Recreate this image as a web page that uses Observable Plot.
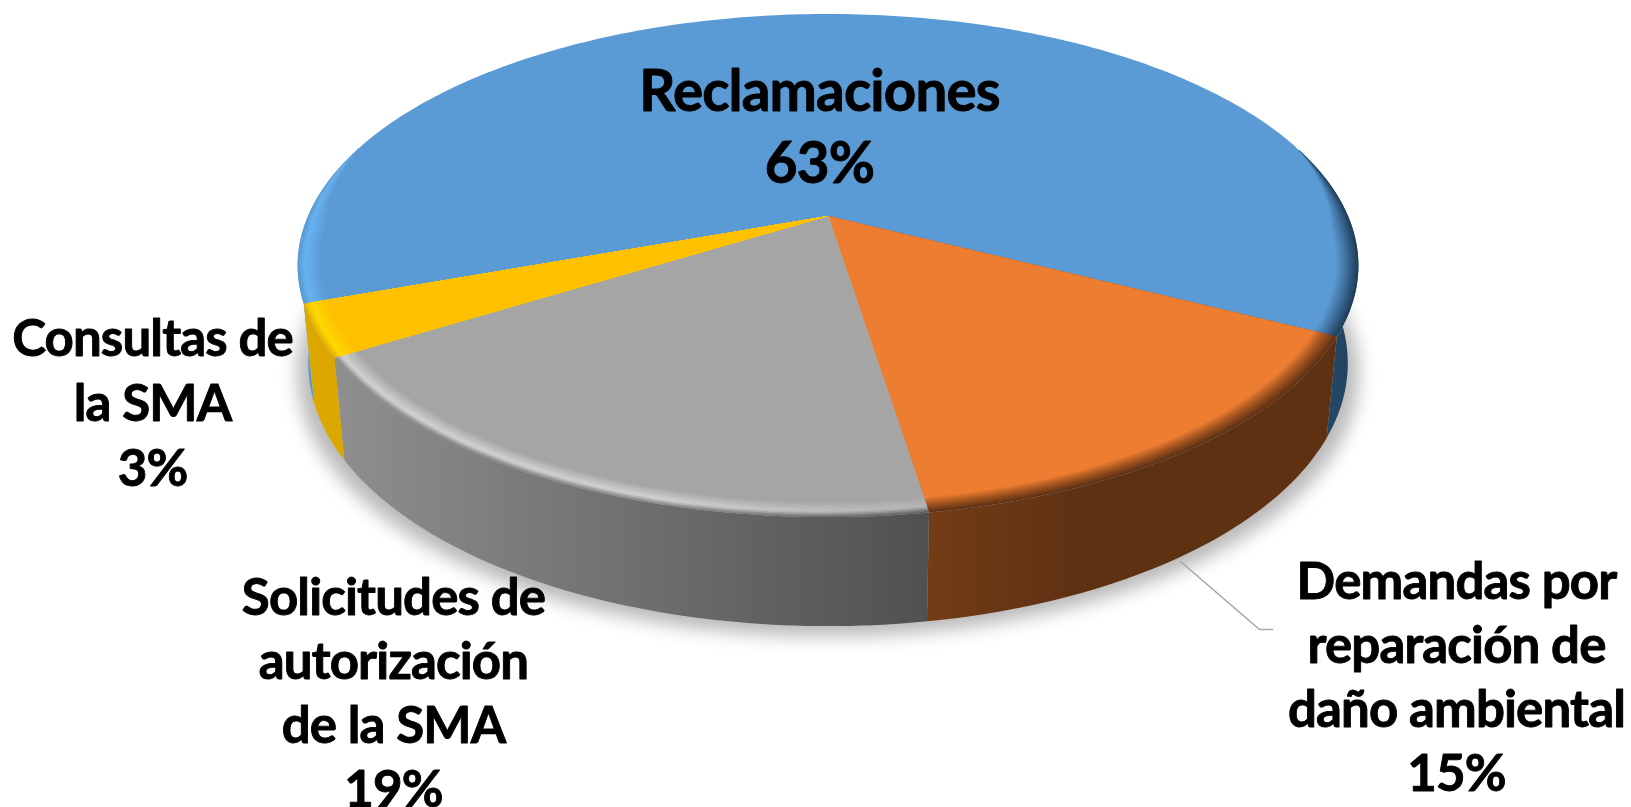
<!DOCTYPE html>
<html lang="es">
<head>
<meta charset="utf-8">
<script src="https://cdn.jsdelivr.net/npm/d3@7"></script>
<script src="https://cdn.jsdelivr.net/npm/@observablehq/plot@0.6"></script>
<style>
html,body{margin:0;padding:0;background:#fff;overflow:hidden}
svg{display:block}
svg text{letter-spacing:-0.85px}
</style>
</head>
<body>
<div id="chart"></div>
<script>
// ---- data
const categories = ["Reclamaciones", "Demandas por reparación de daño ambiental", "Solicitudes de autorización de la SMA", "Consultas de la SMA"];
const values = [63, 15, 18.7, 3.3];
const labelLines = ["Reclamaciones\n63%", "Demandas por\nreparación de\ndaño ambiental\n15%", "Solicitudes de\nautorización\nde la SMA\n19%", "Consultas de\nla SMA\n3%"];

// ---- pie geometry (a tilted disc seen in perspective)
const W = 1631, H = 807;
const cx = 827.5, cy = 215.5, a = 520, b = 241.8, k = 0.197;
const startDeg = 160.2, baseScale = 0.98;
const rad = Math.PI / 180;
function topPt(deg, r = 1) {
  const u = r * Math.cos(deg * rad), v = r * Math.sin(deg * rad), d = 1 - k * v;
  return {x: cx + a * u / d, y: cy + b * v / d};
}
function basePt(deg, s = baseScale, extra = 0) {
  const v = Math.sin(deg * rad), p = topPt(deg);
  return {x: cx + s * (p.x - cx), y: p.y + 95 + extra + 14 * v};
}
const total = d3.sum(values);
const angleStops = [0, ...d3.cumsum(values)].map(c => startDeg + c * 360 / total);
const spans = values.map((_, i) => [angleStops[i], angleStops[i + 1]]);
const degs = ([d0, d1]) => d3.range(0, Math.ceil(d1 - d0) + 1).map(i => Math.min(d0 + i, d1));
// the bevel tapers away towards the back of the disc
const taper = d => Math.max(0, Math.min(1, (Math.sin(d * rad) + 0.3) / 0.35));
const sector = (span, inset) => [{x: cx, y: cy}, ...degs(span).map(d => topPt(d, 1 - inset * taper(d)))];
const wall = span => [...degs(span).map(d => topPt(d)), ...degs(span).reverse().map(d => basePt(d))];
// only the parts of a slice's arc that face the viewer get a wall and bevel rings
function frontPieces(span) {
  const out = [];
  let cur = null;
  for (const d of degs(span)) {
    if (taper(d) > 0) {
      if (!cur) out.push(cur = []);
      cur.push(d);
    } else cur = null;
  }
  return out.map(p => [p[0], p[p.length - 1]]);
}

// ---- styles: colour of each top-face ring at the left and right of the disc
const rim = [
  {l: [[0, "#5b9bd5"], [0.3, "#66b2f0"], [1, "#5b9bd5"]], r: [[0, "#1f3f5c"], [0.5, "#3f6f9c"], [1, "#5b9bd5"]]},
  {l: [[0, "#643315"], [0.55, "#b05c24"], [1, "#ed7d31"]], r: [[0, "#5f3113"], [0.55, "#a85720"], [1, "#ed7d31"]]},
  {l: [[0, "#8a8a8a"], [0.3, "#d2d2d2"], [1, "#a5a5a5"]], r: [[0, "#5a5a5a"], [0.4, "#b4b4b4"], [1, "#a5a5a5"]]},
  {l: [[0, "#e8b400"], [0.3, "#ffd800"], [1, "#ffc000"]], r: [[0, "#e8b400"], [0.3, "#ffd800"], [1, "#ffc000"]]}
];
const wallStops = [
  [[0, "#5b9bd5"], [0.03, "#5b9bd5"], [0.96, "#254a6b"], [1, "#22425f"]],
  [[0, "#723c15"], [0.6, "#723c15"], [0.73, "#5f3113"], [1, "#5f3113"]],
  [[0, "#8e8e8e"], [1, "#505050"]],
  [[0, "#dca800"], [1, "#dca800"]]
];
const wallX = [[297, 1357], [297, 1357], [340, 930], [297, 1357]];
const layers = 12, rimWidth = 0.04;
const sampleStops = (st, t) => {
  let i = st.findIndex(s => s[0] >= t);
  if (i <= 0) return st[0][1];
  const [t0, c0] = st[i - 1], [t1, c1] = st[i];
  return d3.interpolateRgb(c0, c1)((t - t0) / (t1 - t0));
};

// gradients live in a small defs mark
function defsMark() {
  const d = d3.create("svg:defs");
  const grad = (id, x1, x2, st) => {
    const g = d.append("linearGradient").attr("id", id).attr("gradientUnits", "userSpaceOnUse")
      .attr("x1", x1).attr("x2", x2).attr("y1", 0).attr("y2", 0);
    st.forEach(([o, c]) => g.append("stop").attr("offset", o).attr("stop-color", c));
  };
  wallStops.forEach((st, i) => grad(`wall${i}`, wallX[i][0], wallX[i][1], st));
  rim.forEach((sp, i) => d3.range(layers).forEach(j => {
    const t = j / (layers - 1), L = sampleStops(sp.l, t), R = sampleStops(sp.r, t);
    grad(`rim${i}_${j}`, 297, 1357, [[0, L], [0.35, L], [0.62, R], [1, R]]);
  }));
  return d.node();
}

const poly = (pts, fill, extra = {}) => Plot.line(pts, {x: "x", y: "y", fill, stroke: "none", ...extra});

const shadow = poly(d3.range(0, 360, 2).map(d => basePt(d, 1.0, 10)), "#000", {fillOpacity: 0.28, imageFilter: "blur(9px)"});
const walls = spans.flatMap((s, i) => frontPieces(s).map(p => poly(wall(p), `url(#wall${i})`)));
const faces = spans.flatMap((s, i) => d3.range(layers).flatMap(j => {
  const inset = rimWidth * j / (layers - 1);
  const parts = j === layers - 1 ? [s] : frontPieces(s);
  return parts.map(p => poly(sector(p, inset), `url(#rim${i}_${j})`));
}));

// leader line for the orange slice
const leader = [{x: 1180, y: 561}, {x: 1259, y: 629}, {x: 1272, y: 629}];

// labels
const labelFont = {fontFamily: "Lato", fontWeight: 700, fill: "#000", stroke: "#000", strokeWidth: 0.9, textAnchor: "middle", lineAnchor: "bottom"};
const labelRows = [
  {x: 819, y: 182, size: 56.5, lh: 72 / 56.5},
  {x: 1456, y: 790, size: 51, lh: 64 / 51},
  {x: 393, y: 806, size: 51, lh: 64 / 51},
  {x: 152, y: 485, size: 51, lh: 65 / 51}
];
const texts = labelLines.map((t, i) => Plot.text([t], {
  x: () => labelRows[i].x, y: () => labelRows[i].y, text: d => d,
  fontSize: labelRows[i].size, lineHeight: labelRows[i].lh, ...labelFont
}));

const chart = Plot.plot({
  width: W, height: H, margin: 0,
  x: {domain: [0, W], range: [0, W], axis: null},
  y: {domain: [0, H], range: [0, H], axis: null},
  style: {background: "#fff"},
  marks: [
    defsMark,
    shadow,
    Plot.line(leader, {x: "x", y: "y", stroke: "#a6a6a6", strokeWidth: 1.6}),
    ...walls,
    ...faces,
    ...texts
  ]
});
document.getElementById("chart").append(chart);
</script>
</body>
</html>
